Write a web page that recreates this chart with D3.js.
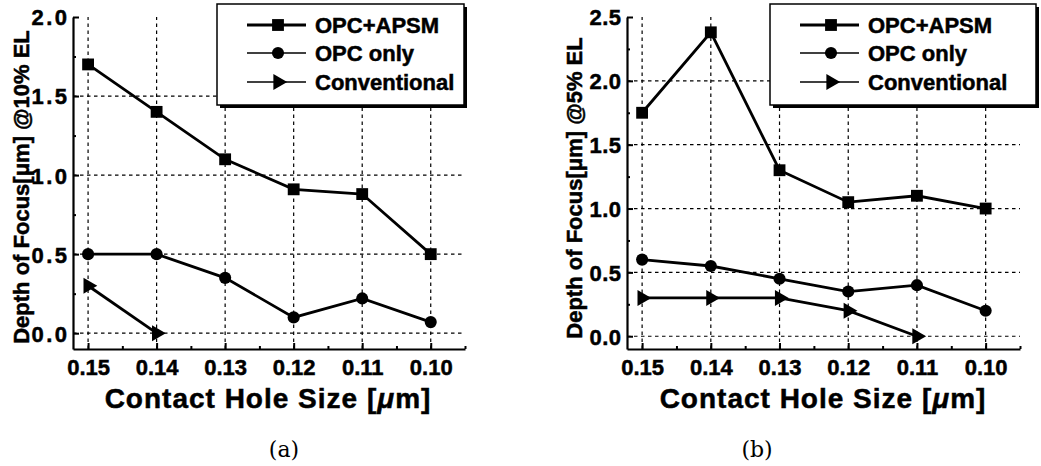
<!DOCTYPE html>
<html>
<head>
<meta charset="utf-8">
<script src="https://cdn.jsdelivr.net/npm/d3@7"></script>
<style>
  body { margin: 0; background: #fff; }
  svg { display: block; font-family: 'Liberation Sans', Arial, sans-serif; }
  .tick text, .heavy { font-weight: bold; fill: #000; stroke: #000; stroke-width: 0.5px; }
</style>
</head>
<body>
<svg id="chart" width="1041" height="466"></svg>
<script>
// contact hole sizes (um), shared by both panels
const sizes = [0.15, 0.14, 0.13, 0.12, 0.11, 0.10];
const sizeLabels = ['0.15', '0.14', '0.13', '0.12', '0.11', '0.10'];
const seriesNames = ['OPC+APSM', 'OPC only', 'Conventional'];

// (a) DOF @ 10% EL
const apsmA = [1.70, 1.40, 1.10, 0.91, 0.88, 0.50];
const opcA = [0.50, 0.50, 0.35, 0.10, 0.22, 0.07];
const convA = [0.30, 0.00];
const yTicksA = [0.0, 0.5, 1.0, 1.5, 2.0];

// (b) DOF @ 5% EL
const apsmB = [1.75, 2.38, 1.30, 1.05, 1.10, 1.00];
const opcB = [0.60, 0.55, 0.45, 0.35, 0.40, 0.20];
const convB = [0.30, 0.30, 0.30, 0.20, 0.00];
const yTicksB = [0.0, 0.5, 1.0, 1.5, 2.0, 2.5];

const svg = d3.select('#chart');

const symbolFor = (i) => {
  if (i === 0) return d3.symbol(d3.symbolSquare, 140)();
  if (i === 1) return d3.symbol(d3.symbolCircle, 115)();
  return d3.symbol(d3.symbolTriangle, 110)();
};
const symbolRot = (i) => i === 2 ? ' rotate(90)' : '';

const drawPanel = (p) => {
  const x = d3.scaleLinear().domain([0.1522, 0.095]).range([p.left, p.right]);
  const y = d3.scaleLinear().domain([-0.1, p.yMax]).range([p.bottom, p.top]);
  const g = svg.append('g');

  // grid
  g.append('g').selectAll('line')
    .data(p.yTicks.filter((t) => t < p.yMax))
    .enter().append('line')
    .attr('x1', p.left).attr('x2', p.right)
    .attr('y1', (d) => y(d)).attr('y2', (d) => y(d))
    .attr('stroke', '#000').attr('stroke-width', 1.2).attr('stroke-dasharray', '3.5,3.5');
  g.append('g').selectAll('line')
    .data(sizes)
    .enter().append('line')
    .attr('x1', (d) => x(d)).attr('x2', (d) => x(d))
    .attr('y1', p.bottom).attr('y2', p.top)
    .attr('stroke', '#000').attr('stroke-width', 1.2).attr('stroke-dasharray', '3.5,3.5');

  // axes, ticks pointing inward
  const yAxis = g.append('g')
    .attr('transform', 'translate(' + p.left + ',0)')
    .call(d3.axisLeft(y).tickValues(p.yTicks).tickFormat(d3.format('.1f'))
      .tickSizeInner(-6).tickSizeOuter(0).tickPadding(6 - p.ySpacing));
  yAxis.selectAll('text').attr('font-size', 22).attr('letter-spacing', p.ySpacing).attr('dy', '0.36em');
  g.append('g')
    .attr('transform', 'translate(' + p.left + ',0)')
    .call(d3.axisLeft(y).tickValues(p.yTicks.slice(0, -1).map((t) => t + 0.25))
      .tickFormat('').tickSizeInner(-3).tickSizeOuter(0))
    .select('.domain').remove();

  const xAxis = g.append('g')
    .attr('transform', 'translate(0,' + p.bottom + ')')
    .call(d3.axisBottom(x).tickValues(sizes).tickFormat((d, i) => sizeLabels[i])
      .tickSizeInner(-6).tickSizeOuter(0).tickPadding(10));
  xAxis.selectAll('text').attr('font-size', 22).attr('dy', '0.71em');
  g.append('g')
    .attr('transform', 'translate(0,' + p.bottom + ')')
    .call(d3.axisBottom(x).tickValues(sizes.map((s) => s - 0.005))
      .tickFormat('').tickSizeInner(-3).tickSizeOuter(0))
    .select('.domain').remove();

  g.selectAll('.domain').attr('stroke', '#000').attr('stroke-width', 2.2);
  g.selectAll('.tick line').attr('stroke', '#000').attr('stroke-width', 2);

  // axis titles
  g.append('text')
    .attr('class', 'heavy')
    .attr('transform', 'translate(' + p.yTitleX + ',' + p.yTitleY + ') rotate(-90)')
    .attr('text-anchor', 'middle')
    .attr('font-size', 22)
    .text(p.yTitle);
  const xt = g.append('text')
    .attr('class', 'heavy')
    .attr('x', p.xTitleX).attr('y', 408)
    .attr('text-anchor', 'middle')
    .attr('font-size', 28).attr('letter-spacing', 1)
    .text('Contact Hole Size [');
  xt.append('tspan').attr('font-style', 'italic').text('\u03bc');
  xt.append('tspan').text('m]');

  // series
  const line = d3.line().x((d) => x(d[0])).y((d) => y(d[1]));
  p.series.forEach((vals, i) => {
    const pts = vals.map((v, j) => [sizes[j], v]);
    g.append('path')
      .datum(pts)
      .attr('fill', 'none').attr('stroke', '#000').attr('stroke-width', 2.8)
      .attr('d', line);
    g.append('g').selectAll('path')
      .data(pts)
      .enter().append('path')
      .attr('transform', (d) => 'translate(' + x(d[0]) + ',' + y(d[1]) + ')' + symbolRot(i))
      .attr('d', symbolFor(i))
      .attr('fill', '#000');
  });

  // legend
  const lg = g.append('g');
  lg.append('rect')
    .attr('x', p.legX + 3).attr('y', 7)
    .attr('width', p.legW).attr('height', 101)
    .attr('fill', '#000');
  lg.append('rect')
    .attr('x', p.legX).attr('y', 4)
    .attr('width', p.legW).attr('height', 101)
    .attr('fill', '#fff').attr('stroke', '#000').attr('stroke-width', 1.5);
  const rows = [25, 53, 82];
  seriesNames.forEach((name, i) => {
    lg.append('line')
      .attr('x1', p.legX + 30).attr('x2', p.legX + 89)
      .attr('y1', rows[i]).attr('y2', rows[i])
      .attr('stroke', '#000').attr('stroke-width', i === 0 ? 2.8 : 1.6);
    lg.append('path')
      .attr('transform', 'translate(' + (p.legX + 61) + ',' + rows[i] + ')' + symbolRot(i))
      .attr('d', symbolFor(i))
      .attr('fill', '#000');
    lg.append('text')
      .attr('class', 'heavy')
      .attr('x', p.legX + 98).attr('y', rows[i] + 8)
      .attr('font-size', 22)
      .text(name);
  });

  // caption
  svg.append('text')
    .attr('x', p.capX).attr('y', 457)
    .attr('text-anchor', 'middle')
    .attr('font-family', "'DejaVu Serif', serif")
    .attr('font-size', 22)
    .text(p.caption);
};

drawPanel({
  left: 73, right: 465, top: 17, bottom: 349, yMax: 2.0, yTicks: yTicksA, ySpacing: 2.5,
  series: [apsmA, opcA, convA],
  yTitle: 'Depth of Focus[\u03bcm] @10% EL', yTitleX: 29, yTitleY: 187,
  xTitleX: 268, legX: 217, legW: 247, capX: 284, caption: '(a)'
});
drawPanel({
  left: 627, right: 1020, top: 17, bottom: 349, yMax: 2.5, yTicks: yTicksB, ySpacing: 0.5,
  series: [apsmB, opcB, convB],
  yTitle: 'Depth of Focus[\u03bcm] @5% EL', yTitleX: 582, yTitleY: 188,
  xTitleX: 823, legX: 770, legW: 266, capX: 757, caption: '(b)'
});
</script>
</body>
</html>
